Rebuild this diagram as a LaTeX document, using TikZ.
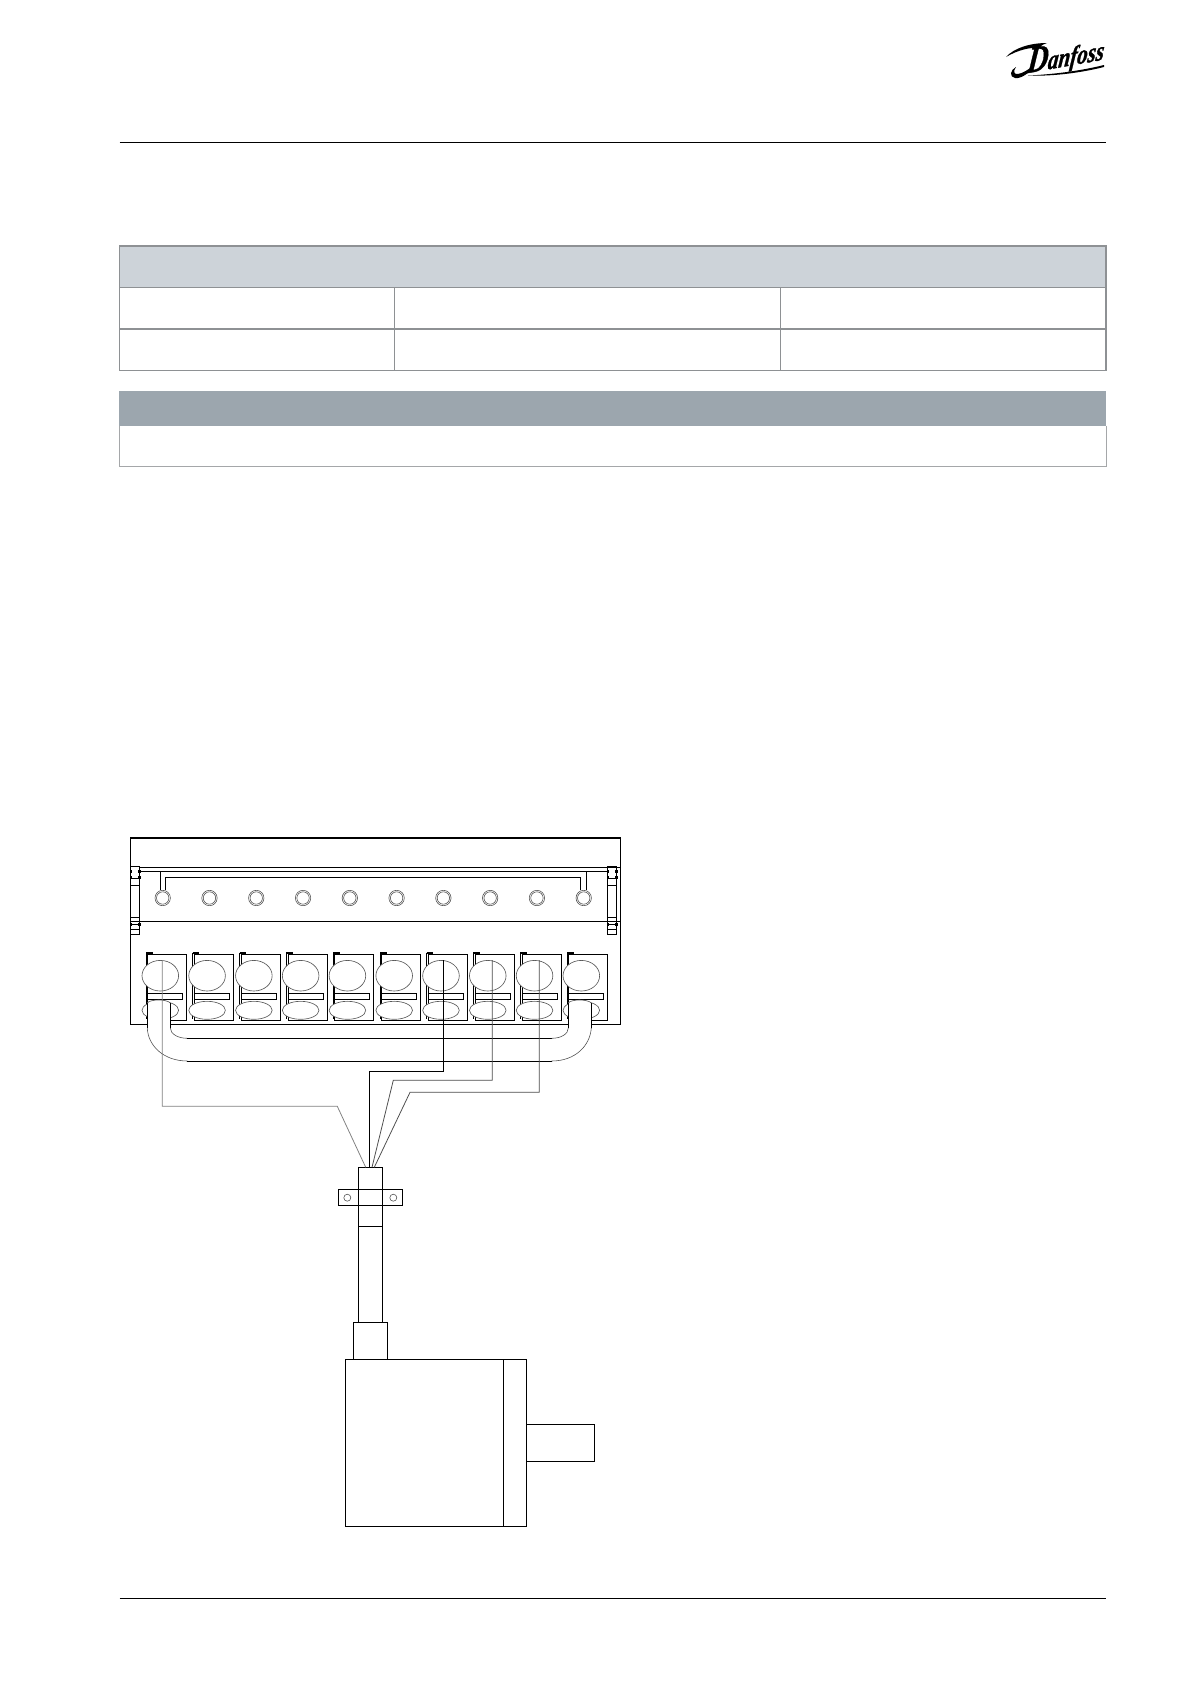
\documentclass[tikz,border=0pt]{standalone}
\usepackage{fontspec}
\newfontfamily\logofont[FakeBold=1.2]{Liberation Serif}
\tikzset{
  px/.style={x=0.05cm,y=-0.05cm},
  ink/.style={draw=black,line width=1.3pt},
  inkthin/.style={draw=black,line width=1.0pt},
  ring/.style={draw=black!70,line width=0.8pt},
  oval/.style={draw=black!65,fill=white,line width=0.9pt},
  wiregray/.style={draw=black!50,line width=1.1pt},
  wiredark/.style={draw=black!70,line width=1.1pt},
  wireblack/.style={draw=black,line width=1.2pt},
  tablerule/.style={draw=tableline,line width=1.6pt},
  tablethin/.style={draw=tableline!80,line width=1.2pt},
}
\definecolor{tableline}{HTML}{8E9194}
\definecolor{headlight}{HTML}{CDD3D9}
\definecolor{headdark}{HTML}{9CA6AE}
\begin{document}
\begin{tikzpicture}[px]
\useasboundingbox (0,0) rectangle (1191,1684);
\fill[white] (0,0) rectangle (1191,1684);

% page rules
\draw[line width=1.3pt] (119.5,142) -- (1105.5,142);
\draw[line width=1.3pt] (119.5,1598.3) -- (1105.5,1598.3);

% logo
\node[inner sep=0pt,anchor=center,rotate=10,xslant=0.3] (logo) at (1066,57)
  {\scalebox{0.8}[1]{\logofont\bfseries\itshape\fontsize{52pt}{52pt}\selectfont D\fontsize{38pt}{38pt}\selectfont anfoss}};
\fill (1006,57) .. controls (1014,48) and (1030,43) .. (1047,43)
  .. controls (1041,45) and (1040,47) .. (1040,48)
  .. controls (1030,47) and (1018,50) .. (1006,57) -- cycle;
\fill (1034,66) .. controls (1030,72) and (1022,79) .. (1015,78)
  .. controls (1009,77) and (1010,70) .. (1016,67)
  .. controls (1013,71) and (1014,75) .. (1018,74)
  .. controls (1024,73) and (1028,69) .. (1034,66) -- cycle;
\fill (1028,75.5) .. controls (1052,74.5) and (1080,71) .. (1104,65)
  -- (1104,67) .. controls (1080,73) and (1052,76.5) .. (1028,75.5) -- cycle;

% table 1
\fill[headlight] (119.7,246) rectangle (1106,287.3);
\draw[tablerule] (119.7,246) rectangle (1106,370.3);
\draw[tablerule] (119.7,287.3) -- (1106,287.3);
\draw[tablerule] (119.7,329) -- (1106,329);
\draw[tablerule] (394.7,287.3) -- (394.7,370.3);
\draw[tablerule] (780.7,287.3) -- (780.7,370.3);

% table 2
\fill[headdark] (119,391) rectangle (1106,426.3);
\draw[tablethin] (119.7,426.3) -- (119.7,466) -- (1106,466) -- (1106,426.3);

% frame of the terminal block
\draw[ink] (130.5,838) rectangle (620.3,1024);
\draw[line width=2.8pt] (130,838) -- (620.8,838);
\draw[inkthin] (139,867.3) -- (620.3,867.3);
\draw[inkthin] (139,871.3) -- (607.5,871.3);
\draw[inkthin] (130.5,921.3) -- (620.3,921.3);
\draw[inkthin] (160.7,871.3) -- (160.7,890);
\draw[inkthin] (165,890) -- (165,877.3) -- (580.7,877.3) -- (580.7,890);
\draw[inkthin] (586,871.3) -- (586,890);

% rings
\foreach \i in {0,...,9}{
  \coordinate (r\i) at ({162.7+46.78*\i},898);
  \draw[ring] (r\i) circle (7.7);
  \draw[ring] (r\i) circle (6.2);
}

% side brackets
\foreach \bx in {130.5,607.5}{
  \draw[inkthin] (\bx,866.3) rectangle ({\bx+9},934.3);
  \draw[inkthin] (\bx,878.7) -- ({\bx+9},878.7);
  \draw[inkthin] (\bx,885) -- ({\bx+9},885);
  \draw[inkthin] (\bx,917.3) -- ({\bx+9},917.3);
  \draw[inkthin] (\bx,924) -- ({\bx+9},924);
  \draw[inkthin] (\bx,929.3) -- ({\bx+9},929.3);
  \fill ({\bx-1},870) rectangle ({\bx+1.5},873);
  \fill ({\bx+7.5},870) rectangle ({\bx+10},873);
  \fill ({\bx-1},875.5) rectangle ({\bx+1.5},878.7);
  \fill ({\bx+7.5},875.5) rectangle ({\bx+10},878.7);
  \fill ({\bx-1},923) rectangle ({\bx+1.5},925.5);
  \fill ({\bx+7.5},923) rectangle ({\bx+10},925.5);
}

% terminals
\foreach \i in {0,...,9}{
  \pgfmathsetmacro{\dx}{46.78*\i}
  \begin{scope}[xshift=\dx*0.05cm]
    \draw[inkthin] (147.7,954.3) rectangle (186.7,1020.3);
    \draw[line width=1.1pt] (146,952.5) -- (146,1019);
    \fill (146,951.8) rectangle (152.7,954.3);
    \draw[inkthin] (147.7,993.3) rectangle (182.7,999.7);
    \filldraw[oval] (160.3,975.7) ellipse (18.3 and 15.3);
    \filldraw[oval] (160.3,1010.3) ellipse (18.3 and 9);
  \end{scope}
}

% jumper
\coordinate (jlt) at (147.3,1003);
\coordinate (jli) at (170.3,1003);
\coordinate (jri) at (568.3,1003);
\coordinate (jrt) at (591.3,1003);
\filldraw[fill=white,draw=none]
  (jlt) .. controls (150,999) and (167,999) .. (jli) -- (170.3,1028)
  .. controls (170.5,1034) and (178,1038.3) .. (187.3,1038.3) -- (551.7,1038.3)
  .. controls (561,1038.3) and (568.3,1034) .. (568.3,1028) -- (jri)
  .. controls (571,999) and (588,999) .. (jrt) -- (591.3,1028)
  .. controls (590,1046) and (575,1061) .. (551.7,1061) -- (187.3,1061)
  .. controls (164,1061) and (148,1046) .. (147.3,1028) -- cycle;
\draw[inkthin] (jli) -- (170.3,1028);
\draw[draw=black!70,line width=0.8pt] (170.3,1028)
  .. controls (170.5,1034) and (178,1038.3) .. (187.3,1038.3);
\draw[inkthin] (187.3,1038.3) -- (551.7,1038.3);
\draw[draw=black!70,line width=0.8pt] (551.7,1038.3)
  .. controls (561,1038.3) and (568.3,1034) .. (568.3,1028);
\draw[inkthin] (568.3,1028) -- (jri);
\draw[inkthin] (jlt) -- (147.3,1028);
\draw[draw=black!70,line width=0.8pt] (147.3,1028)
  .. controls (148,1046) and (164,1061) .. (187.3,1061);
\draw[inkthin] (187.3,1061) -- (551.7,1061);
\draw[draw=black!70,line width=0.8pt] (551.7,1061)
  .. controls (575,1061) and (590,1046) .. (591.3,1028);
\draw[inkthin] (591.3,1028) -- (jrt);
\draw[oval,fill=none] (jlt) .. controls (150,999) and (167,999) .. (jli);
\draw[oval,fill=none] (jri) .. controls (571,999) and (588,999) .. (jrt);

% cable and clamp
\draw[ink] (358.3,1167.3) rectangle (382.3,1322.3);
\draw[ink] (358.3,1226.3) -- (382.3,1226.3);
\draw[ink] (338.3,1189.3) rectangle (402.7,1205.3);
\draw[ink] (358.3,1189.3) -- (358.3,1205.3);
\draw[ink] (382.3,1189.3) -- (382.3,1205.3);
\draw[ring] (347.3,1197.7) circle (3.5);
\draw[ring] (393.3,1197.7) circle (3.5);

% encoder
\draw[ink] (353.3,1322.3) rectangle (387.7,1359.3);
\draw[ink] (345.3,1359.3) rectangle (526.3,1526);
\draw[ink] (503.3,1359.3) -- (503.3,1526);
\draw[ink] (526.3,1424.7) -- (594.3,1424.7) -- (594.3,1461.3) -- (526.3,1461.3);

% wires
\coordinate (w1) at (162.3,960);
\coordinate (w2) at (443.3,960);
\coordinate (w3) at (492.3,960);
\coordinate (w4) at (539.3,960);
\coordinate (c1) at (365.7,1167.3);
\coordinate (c2) at (369.3,1167.3);
\coordinate (c3) at (372,1167.3);
\coordinate (c4) at (374.3,1167.3);
\draw[wiregray] (w1) -- (162.3,1106.3) -- (337.3,1106.3) -- (c1);
\draw[wireblack] (w2) -- (443.3,1071.3) -- (369.3,1071.3) -- (c2);
\draw[wiredark] (w3) -- (492.3,1080.3) -- (393.3,1080.3) -- (c3);
\draw[wiredark] (w4) -- (539.3,1092.3) -- (410,1092.3) -- (c4);
\end{tikzpicture}
\end{document}
